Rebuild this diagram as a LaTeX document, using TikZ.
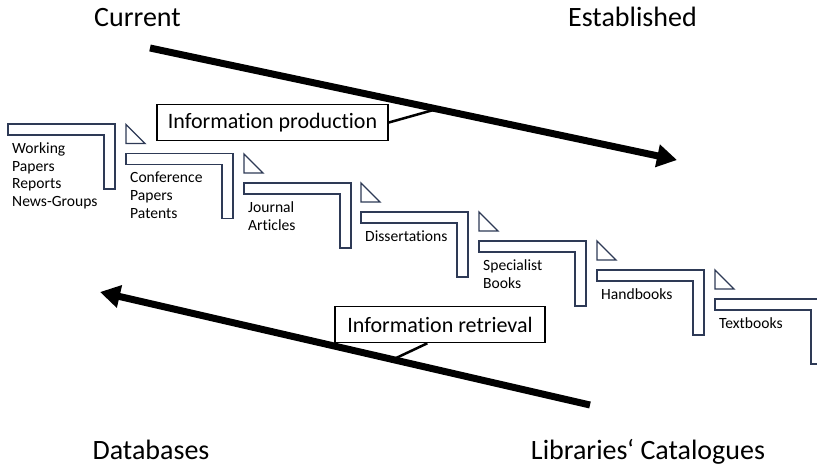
\documentclass[tikz,border=0pt]{standalone}
\usepackage{fontspec}
\setmainfont{Carlito}[Ligatures=NoCommon]
\usetikzlibrary{arrows.meta,calc}
\definecolor{stepcol}{HTML}{2E3A56}
\begin{document}
\begin{tikzpicture}[x=1pt,y=-1pt,
  stepshape/.style={draw=stepcol, line width=1.4pt, fill=white, line join=miter},
  steplabel/.style={anchor=north west, align=left, inner sep=0pt, font=\fontsize{15.6}{17.6}\selectfont},
  bigarrow/.style={line width=7pt, -{Triangle[length=20pt,width=22pt]}},
  calloutbox/.style={draw, line width=1.6pt, minimum width=#1, minimum height=36pt, inner sep=0pt, font=\fontsize{22}{26}\selectfont},
  callline/.style={line width=2.5pt},
  heading/.style={anchor=base, inner sep=0pt, font=\fontsize{28}{33}\selectfont}]
\useasboundingbox (0,0) rectangle (817,468);
\clip (0,0) rectangle (817,468);

% headings
\node[heading] (current) at (137.5,27) {Current};
\node[heading] (established) at (632.5,27) {Established};
\node[heading] (databases) at (151,459) {Databases};
\node[heading] (catalogues) at (648,459) {Libraries‘ Catalogues};

% steps
\foreach \L/\T in {8/124, 126/153.5, 244/183, 361/212, 479/241, 597/270, 715/299}{
  \draw[stepshape] (\L,\T) -- ++(107,0) -- ++(0,65) -- ++(-11,0) -- ++(0,-54) -- ++(-96,0) -- cycle;
}
\foreach \L/\T in {126/153.5, 244/183, 361/212, 479/241, 597/270, 715/299}{
  \draw[stepshape] (\L,\T-29) -- (\L,\T-10) -- (\L+19,\T-10) -- cycle;
}

% step labels
\node[steplabel] (s1) at (12,142.5) {Working\\Papers\\Reports\\News-Groups};
\node[steplabel] (s2) at (130,172) {Conference\\Papers\\Patents};
\node[steplabel] (s3) at (248,201.5) {Journal\\Articles};
\node[steplabel] (s4) at (365,230.5) {Dissertations};
\node[steplabel] (s5) at (483,259.5) {Specialist\\Books};
\node[steplabel] (s6) at (601,288.5) {Handbooks};
\node[steplabel] (s7) at (719,317.5) {Textbooks};

% arrows
\coordinate (prodtail) at (150,48);
\coordinate (prodtip) at (677,160);
\coordinate (rettail) at (590,405);
\coordinate (rettip) at (100,292);
\draw[bigarrow] (prodtail) -- (prodtip);
\draw[bigarrow] (rettail) -- (rettip);

% callout boxes
\node[calloutbox=231pt, fill=white] (prod) at (272.5,122.5) {Information production};
\node[calloutbox=210pt, fill=white] (ret) at (440,324.5) {Information retrieval};
\coordinate (prodpt) at (437,109);
\coordinate (retpt) at (394,359);
\draw[callline] (prod.east) -- (prodpt);
\draw[callline] ($(ret.south west)!0.44!(ret.south east)$) -- (retpt);
\end{tikzpicture}
\end{document}
